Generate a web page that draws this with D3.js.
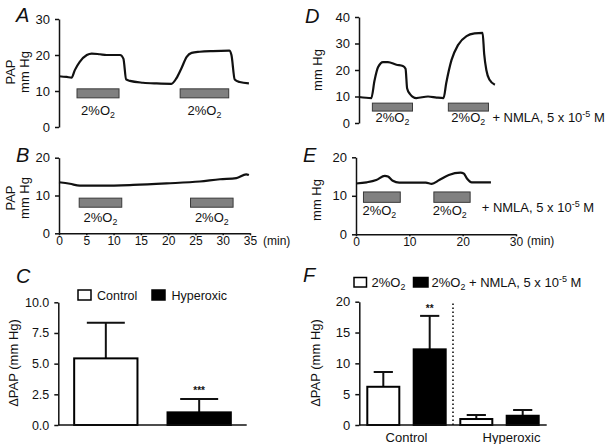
<!DOCTYPE html>
<html><head><meta charset="utf-8">
<script src="https://cdn.jsdelivr.net/npm/d3@7"></script>
<style>
body{margin:0;background:#fff}
svg{display:block}
text{font-family:"Liberation Sans",Arial,Helvetica,sans-serif;white-space:pre;fill:#111}
</style>
</head><body>
<svg id="c" width="605" height="444"></svg>
<script>
// ---------------- DATA ----------------
// Panel A trace (time, min ; PAP, mm Hg)
const traceA_t = [0,1.4,2.3,2.9,3.8,5.1,6.0,7.5,8.7,11.2,11.8,12.3,13.0,15.4,17.9,20.6,21.5,22.4,23.4,24.3,25.8,28.2,31.2,31.6,32.2,33.1,34.8];
const traceA_v = [14.1,13.9,13.7,15.8,18.1,20.0,20.4,20.2,20.0,20.0,19.0,13.2,12.8,12.3,12.1,12.0,13.5,16.2,19.5,20.6,20.9,21.1,21.2,20.0,13.2,12.5,12.1];
// Panel B trace
const traceB_t = [0,2,3.8,8,13.6,19.7,25.8,29.5,32.5,34.3,34.8];
const traceB_v = [13.5,13.1,12.6,12.6,12.8,13.2,13.7,14.3,14.6,15.6,15.4];
// Panel D trace
const traceD_t = [0,2.3,2.9,3.55,4.5,5.4,7.0,8.2,8.7,9.0,9.5,10.7,12.9,14.5,15.8,16.3,17.3,18.5,20.1,21.6,23.1,23.4,23.8,24.4,25.4];
const traceD_v = [9.8,9.4,16,21,23,23,22,21.5,20.5,13,11,9.4,10,9.6,9.4,15,23.8,29.4,32.8,33.8,34,26,20,16.3,14.4];
// Panel E trace
const traceE_t = [0,2.0,3.8,5.4,6.0,6.9,8.1,10.6,13.1,14.2,15.6,17.4,19.6,20.2,20.8,21.7,25.3];
const traceE_v = [13.2,13.5,14.1,15.2,15.0,13.9,13.4,13.4,13.4,13.1,14.1,15.4,16.0,15.8,14.5,13.5,13.5];
// 2% O2 exposure periods (start, end in min) and bar levels (mm Hg)
const periodsA = [[3.3,11.0],[22.2,31.1]]; const levelA = [8.1,10.6];
const periodsB = [[3.7,11.5],[24.1,31.9]]; const levelB = [6.9,9.3];
const periodsD = [[2.5,10.0],[16.7,24.2]]; const levelD = [4.5,7.5];
const periodsE = [[1.4,8.3],[14.6,21.4]];  const levelE = [8.3,11.0];
// Tick values
const ticksA = [0,10,20,30];
const ticksB = [0,10,20];
const ticksTime35 = [0,5,10,15,20,25,30,35];
const ticksD = [0,10,20,30,40];
const ticksE = [0,10,20];
const ticksTime30 = [0,10,20,30];
const ticksC = [0,2.5,5,7.5,10];
const ticksF = [0,5,10,15,20];
// Panel C
const groupsC = ["Control","Hyperoxic"];
const meanC = [5.43,1.03];
const upperC = [8.33,2.12];
const sigC = ["","***"];
// Panel F
const groupsF = ["Control","Hyperoxic"];
const seriesF = ["2%O2","2%O2 + NMLA"];
const meanF = [[6.2,12.27],[0.97,1.5]];
const upperF = [[8.6,17.7],[1.62,2.43]];
const sigF = [["","**"],["",""]];

// ---------------- DRAWING ----------------
const svg = d3.select("#c");

function styleAxis(a, fs){
  a.attr("font-size",null).attr("font-family",null);
  a.select(".domain").attr("stroke","#111").attr("stroke-width",1.5);
  a.selectAll(".tick line").attr("stroke","#111").attr("stroke-width",1.5);
  a.selectAll(".tick text").attr("font-size",fs||13).attr("fill","#111");
}
function yAxis(y, ticks, x0, fs, fmt){
  const ax = d3.axisLeft(y).tickValues(ticks).tickSize(4).tickPadding(5).tickSizeOuter(0);
  if (fmt) ax.tickFormat(fmt);
  const a = svg.append("g").attr("transform",`translate(${x0},0)`).call(ax);
  styleAxis(a, fs);
}
function xAxis(x, ticks, y0, fs){
  const ax = d3.axisBottom(x).tickValues(ticks).tickSize(2).tickPadding(1).tickSizeOuter(0);
  const a = svg.append("g").attr("transform",`translate(0,${y0})`).call(ax);
  styleAxis(a, fs);
}
function o2(t, fs){
  fs = fs || 13;
  t.append("tspan").text("2%O");
  t.append("tspan").attr("font-size",fs*0.68).attr("dy",3).text("2");
  return t;
}
function nmla(t, lead){
  t.append("tspan").attr("dy",t.selectAll("tspan").size()?-3:0).text(lead + "+ NMLA, 5 x 10");
  t.append("tspan").attr("font-size",9).attr("dy",-5).text("-5");
  t.append("tspan").attr("dy",5).text(" M");
  return t;
}
function trace(x, y, ts, vs){
  const pts = ts.map((t,i)=>[t, vs[i]]);
  svg.append("path").datum(pts)
    .attr("fill","none").attr("stroke","#111").attr("stroke-width",2.2)
    .attr("stroke-linejoin","round")
    .attr("d", d3.line().x(d=>x(d[0])).y(d=>y(d[1])).curve(d3.curveMonotoneX));
}
function periodBars(x, y, periods, level){
  svg.selectAll(null).data(periods).enter().append("rect")
    .attr("x", d=>x(d[0])).attr("width", d=>x(d[1])-x(d[0]))
    .attr("y", y(level[1])).attr("height", y(level[0])-y(level[1]))
    .attr("fill","#808080").attr("stroke","#3a3a3a").attr("stroke-width",1);
}
function panelLabel(s, x, y){
  svg.append("text").attr("x",x).attr("y",y).attr("font-size",20).attr("font-style","italic").text(s);
}
function yLabel(lines, y){
  lines.forEach(l=>{
    svg.append("text").attr("transform",`translate(${l[1]},${y}) rotate(-90)`)
      .attr("text-anchor","middle").attr("font-size",13).text(l[0]);
  });
}

// ===== Panel A =====
{
  const x = d3.scaleLinear().domain([0,35]).range([59,250]);
  const y = d3.scaleLinear().domain([0,30]).range([127,19]);
  yAxis(y, ticksA, 59, 13);
  trace(x, y, traceA_t, traceA_v);
  periodBars(x, y, periodsA, levelA);
  periodsA.forEach(p=>{
    o2(svg.append("text").attr("x",(x(p[0])+x(p[1]))/2).attr("y",115).attr("text-anchor","middle").attr("font-size",13));
  });
  panelLabel("A",16,22);
  yLabel([["PAP",15],["mm Hg",29]],72);
}
// ===== Panel B =====
{
  const x = d3.scaleLinear().domain([0,35]).range([59,250]);
  const y = d3.scaleLinear().domain([0,20]).range([233.3,157.7]);
  yAxis(y, ticksB, 59, 13);
  xAxis(x, ticksTime35, 233.3, 12);
  trace(x, y, traceB_t, traceB_v);
  periodBars(x, y, periodsB, levelB);
  periodsB.forEach(p=>{
    o2(svg.append("text").attr("x",(x(p[0])+x(p[1]))/2).attr("y",222).attr("text-anchor","middle").attr("font-size",13));
  });
  svg.append("text").attr("x",263).attr("y",244.5).attr("font-size",12).text("(min)");
  panelLabel("B",16,162);
  yLabel([["PAP",15],["mm Hg",29]],198);
}
// ===== Panel D =====
{
  const x = d3.scaleLinear().domain([0,30]).range([359,519.5]);
  const y = d3.scaleLinear().domain([0,40]).range([123,17]);
  yAxis(y, ticksD, 359, 13);
  trace(x, y, traceD_t, traceD_v);
  periodBars(x, y, periodsD, levelD);
  o2(svg.append("text").attr("x",(x(periodsD[0][0])+x(periodsD[0][1]))/2).attr("y",122).attr("text-anchor","middle").attr("font-size",13));
  const t2 = svg.append("text").attr("x",x(periodsD[1][0])+3).attr("y",122).attr("font-size",13);
  o2(t2); nmla(t2,"  ");
  panelLabel("D",305,23);
  yLabel([["mm Hg",322]],70);
}
// ===== Panel E =====
{
  const x = d3.scaleLinear().domain([0,30]).range([356,516]);
  const y = d3.scaleLinear().domain([0,20]).range([234.3,157.3]);
  yAxis(y, ticksE, 356, 13);
  xAxis(x, ticksTime30, 234.3, 12);
  trace(x, y, traceE_t, traceE_v);
  periodBars(x, y, periodsE, levelE);
  periodsE.forEach(p=>{
    o2(svg.append("text").attr("x",x(p[0])-1).attr("y",215).attr("font-size",13));
  });
  nmla(svg.append("text").attr("x",481.7).attr("y",215).attr("font-size",13),"");
  svg.append("text").attr("x",527).attr("y",244.5).attr("font-size",12).text("(min)");
  panelLabel("E",303,162);
  yLabel([["mm Hg",321]],200);
}
// ===== Panel C =====
{
  const x = d3.scaleBand().domain(groupsC).range([58.3,246.7]).paddingInner(0.322).paddingOuter(0.17);
  const y = d3.scaleLinear().domain([0,10]).range([425,302.3]);
  const bw = x.bandwidth();
  groupsC.forEach((g,i)=>{
    const cx = x(g)+bw/2;
    svg.append("line").attr("x1",cx).attr("x2",cx).attr("y1",y(meanC[i])).attr("y2",y(upperC[i])).attr("stroke","#111").attr("stroke-width",2);
    svg.append("line").attr("x1",cx-bw*0.3).attr("x2",cx+bw*0.3).attr("y1",y(upperC[i])).attr("y2",y(upperC[i])).attr("stroke","#111").attr("stroke-width",2);
    if (sigC[i]) svg.append("text").attr("x",cx).attr("y",y(upperC[i])-5).attr("text-anchor","middle").attr("font-size",10).attr("font-weight","bold").text(sigC[i]);
  });
  svg.selectAll(null).data(groupsC).enter().append("rect")
    .attr("x",d=>x(d)).attr("width",bw)
    .attr("y",(d,i)=>y(meanC[i])).attr("height",(d,i)=>y(0)-y(meanC[i]))
    .attr("fill",(d,i)=>i===0?"#fff":"#000").attr("stroke","#000").attr("stroke-width",2);
  yAxis(y, ticksC, 58.3, 12.5, d3.format(".1f"));
  svg.append("line").attr("x1",58.3).attr("x2",246.7).attr("y1",425).attr("y2",425).attr("stroke","#111").attr("stroke-width",1.5);
  const lg = [[groupsC[0],78,"#fff",97],[groupsC[1],152,"#000",171.5]];
  lg.forEach(l=>{
    svg.append("rect").attr("x",l[1]).attr("y",290).attr("width",13).attr("height",10).attr("fill",l[2]).attr("stroke","#000").attr("stroke-width",1.5);
    svg.append("text").attr("x",l[3]).attr("y",299.5).attr("font-size",12.5).text(l[0]);
  });
  panelLabel("C",16,283);
  svg.append("text").attr("transform","translate(18,363) rotate(-90)").attr("text-anchor","middle").attr("font-size",13).text("ΔPAP (mm Hg)");
}
// ===== Panel F =====
{
  const x0 = d3.scaleBand().domain(groupsF).range([359.3,546.7]).paddingInner(0.157).paddingOuter(0.086);
  const x1 = d3.scaleBand().domain(seriesF).range([0,x0.bandwidth()]).paddingInner(0.31).paddingOuter(0);
  const y = d3.scaleLinear().domain([0,20]).range([425,301.7]);
  const bw = x1.bandwidth();
  groupsF.forEach((g,gi)=>{
    seriesF.forEach((s,si)=>{
      const bx = x0(g)+x1(s), cx = bx+bw/2;
      svg.append("line").attr("x1",cx).attr("x2",cx).attr("y1",y(meanF[gi][si])).attr("y2",y(upperF[gi][si])).attr("stroke","#111").attr("stroke-width",2);
      svg.append("line").attr("x1",cx-bw*0.3).attr("x2",cx+bw*0.3).attr("y1",y(upperF[gi][si])).attr("y2",y(upperF[gi][si])).attr("stroke","#111").attr("stroke-width",2);
      svg.append("rect").attr("x",bx).attr("width",bw)
        .attr("y",y(meanF[gi][si])).attr("height",y(0)-y(meanF[gi][si]))
        .attr("fill",si===0?"#fff":"#000").attr("stroke","#000").attr("stroke-width",2);
      if (sigF[gi][si]) svg.append("text").attr("x",cx).attr("y",y(upperF[gi][si])-4).attr("text-anchor","middle").attr("font-size",10).attr("font-weight","bold").text(sigF[gi][si]);
    });
  });
  const sepX = (x0(groupsF[0])+x0.bandwidth()+x0(groupsF[1]))/2;
  svg.append("line").attr("x1",sepX).attr("x2",sepX).attr("y1",y(0)).attr("y2",y(19.7)).attr("stroke","#111").attr("stroke-width",1.6).attr("stroke-dasharray","1.6,2.4");
  yAxis(y, ticksF, 359.3, 13);
  svg.append("line").attr("x1",359.3).attr("x2",546.7).attr("y1",425).attr("y2",425).attr("stroke","#111").attr("stroke-width",1.5);
  const labShift = [0,12];
  groupsF.forEach((g,i)=>{
    svg.append("text").attr("x",x0(g)+x0.bandwidth()/2+labShift[i]).attr("y",441.5).attr("text-anchor","middle").attr("font-size",13).text(g);
  });
  svg.append("rect").attr("x",354).attr("y",277.5).attr("width",12.5).attr("height",9.5).attr("fill","#fff").attr("stroke","#000").attr("stroke-width",1.5);
  o2(svg.append("text").attr("x",371.5).attr("y",287).attr("font-size",13));
  svg.append("rect").attr("x",413.5).attr("y",277.5).attr("width",14.5).attr("height",9.5).attr("fill","#000").attr("stroke","#000").attr("stroke-width",1.5);
  const lt = svg.append("text").attr("x",431.5).attr("y",287).attr("font-size",13);
  o2(lt); nmla(lt," ");
  panelLabel("F",303,282);
  svg.append("text").attr("transform","translate(320,363) rotate(-90)").attr("text-anchor","middle").attr("font-size",13).text("ΔPAP (mm Hg)");
}
</script>
</body></html>
